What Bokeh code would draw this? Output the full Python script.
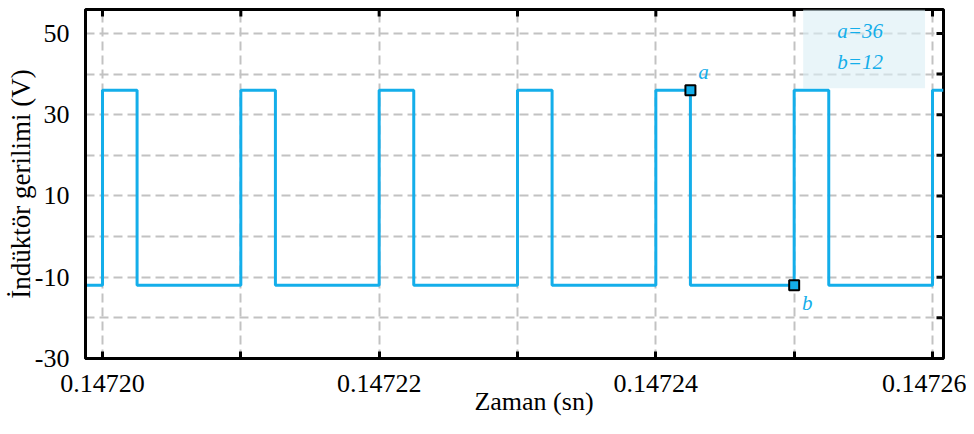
from bokeh.plotting import figure
from bokeh.models import FixedTicker, Range1d, BoxAnnotation
from bokeh.core.properties import value
from bokeh.embed import file_html
from bokeh.resources import INLINE

# ---- data ----
x_label_ticks = [0.14720, 0.14722, 0.14724, 0.14726]
x_tick_labels = ["0.14720", "0.14722", "0.14724", "0.14726"]
x_minor_ticks = [0.14721, 0.14723, 0.14725]
y_ticks = [-30, -10, 10, 30, 50]
y_tick_labels = ["-30", "-10", "10", "30", "50"]
y_minor_ticks = [-20, 0, 20, 40]
rise_times = [0.147200, 0.147210, 0.147220, 0.147230, 0.147240, 0.147250, 0.147260]
fall_times = [0.1472025, 0.1472125, 0.1472225, 0.1472325, 0.1472425, 0.1472525]
v_high = 36
v_low = -12
point_a = (0.1472425, 36)
point_b = (0.147250, -12)
x_label = "Zaman (sn)"
y_label = "İndüktör gerilimi (V)"

FONT = "Liberation Serif"
BLUE = "#14aeea"
GRID = "#c2c2c2"
NB = "\u00a0"

x0, x1 = 0.1471987717, 0.1472607948
y0, y1 = -30, 55.9
all_x_ticks = sorted(x_label_ticks + x_minor_ticks)
all_y_ticks = sorted(y_ticks + y_minor_ticks)

p = figure(width=966, height=430, x_range=Range1d(x0, x1), y_range=Range1d(y0, y1),
           output_backend="svg", toolbar_location=None,
           min_border_left=85, min_border_right=23, min_border_top=9, min_border_bottom=72,
           background_fill_color="white", border_fill_color="white")

p.outline_line_color = "black"
p.outline_line_width = 3

# bottom axis
p.xaxis.ticker = FixedTicker(ticks=x_label_ticks, minor_ticks=x_minor_ticks)
p.xaxis.major_label_overrides = {t: l for t, l in zip(x_label_ticks, x_tick_labels)}
p.xaxis.major_label_text_font = FONT
p.xaxis.major_label_text_font_size = "26px"
p.xaxis.major_label_text_color = "black"
p.xaxis.major_label_standoff = 16
p.xaxis.major_tick_in = 7
p.xaxis.major_tick_out = 0
p.xaxis.minor_tick_in = 7
p.xaxis.minor_tick_out = 0
p.xaxis.major_tick_line_width = 3
p.xaxis.minor_tick_line_width = 3
p.xaxis.minor_tick_line_color = "black"
p.xaxis.axis_line_width = 3
p.xaxis.axis_label = NB * 6 + x_label
p.xaxis.axis_label_text_font = FONT
p.xaxis.axis_label_text_font_size = "26px"
p.xaxis.axis_label_text_font_style = "normal"
p.xaxis.axis_label_text_color = "black"
p.xaxis.axis_label_standoff = -8

# left axis
p.yaxis.ticker = FixedTicker(ticks=y_ticks, minor_ticks=y_minor_ticks)
p.yaxis.major_label_overrides = {t: l for t, l in zip(y_ticks, y_tick_labels)}
p.yaxis.major_label_text_font = FONT
p.yaxis.major_label_text_font_size = "26px"
p.yaxis.major_label_text_color = "black"
p.yaxis.major_label_standoff = 12
p.yaxis.major_tick_in = 0
p.yaxis.major_tick_out = 0
p.yaxis.minor_tick_line_color = None
p.yaxis.axis_line_width = 3
p.yaxis.axis_label = y_label
p.yaxis.axis_label_text_font = FONT
p.yaxis.axis_label_text_font_size = "27px"
p.yaxis.axis_label_text_font_style = "normal"
p.yaxis.axis_label_text_color = "black"
p.yaxis.axis_label_standoff = -4

# grid
p.xgrid.ticker = FixedTicker(ticks=all_x_ticks)
p.xgrid.grid_line_color = GRID
p.xgrid.grid_line_dash = "9 5"
p.xgrid.grid_line_width = 2
p.ygrid.ticker = FixedTicker(ticks=y_ticks, minor_ticks=y_minor_ticks)
p.ygrid.grid_line_color = GRID
p.ygrid.grid_line_dash = "9 5"
p.ygrid.grid_line_width = 2
p.ygrid.minor_grid_line_color = GRID
p.ygrid.minor_grid_line_dash = "9 5"
p.ygrid.minor_grid_line_width = 2

# inward ticks on the top and right frame edges (half of each dash is clipped by the frame)
p.scatter(all_x_ticks, [y1] * len(all_x_ticks), marker="dash", angle=1.5708, size=14,
          line_color="black", line_width=3)
p.scatter([x1] * len(all_y_ticks), all_y_ticks, marker="dash", size=14,
          line_color="black", line_width=3)

# value box (top right)
p.add_layout(BoxAnnotation(left=0.14725065, right=0.14725946, bottom=36.5, top=y1,
                           fill_color="#dbeef5", fill_alpha=0.6, line_color=None,
                           level="underlay"))
p.text(x=[0.14725477, 0.14725477], y=[50.5, 43.1],
       text=[f"a={v_high}", f"b={abs(v_low)}"],
       text_font=value(FONT), text_font_style="italic", text_font_size="21px",
       text_color=BLUE, text_align="center", text_baseline="middle")

# waveform
xs, ys = [x0], [v_low]
for i, r in enumerate(rise_times):
    xs += [r, r]
    ys += [v_low, v_high]
    if i < len(fall_times):
        f = fall_times[i]
        xs += [f, f]
        ys += [v_high, v_low]
xs.append(x1)
ys.append(ys[-1])
p.line(xs, ys, line_color=BLUE, line_width=3)

# measurement points
p.scatter([point_a[0], point_b[0]], [point_a[1], point_b[1]], marker="square", size=10,
          fill_color=BLUE, line_color="black", line_width=2)
p.text(x=[point_a[0]], y=[point_a[1]], text=["a"], x_offset=13, y_offset=-18,
       text_font=value(FONT), text_font_style="italic", text_font_size="21px",
       text_color=BLUE, text_align="center", text_baseline="middle")
p.text(x=[point_b[0]], y=[point_b[1]], text=["b"], x_offset=13, y_offset=18,
       text_font=value(FONT), text_font_style="italic", text_font_size="21px",
       text_color=BLUE, text_align="center", text_baseline="middle")

open("out.html", "w").write(file_html(p, INLINE))
